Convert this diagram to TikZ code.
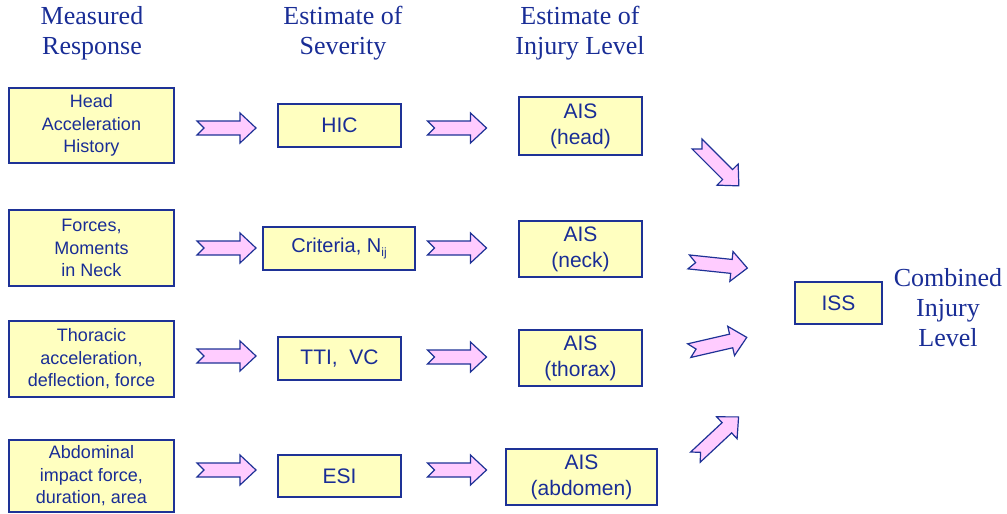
\documentclass[tikz,border=0pt]{standalone}
\usepackage{fontspec}
\setmainfont{Liberation Serif}
\setsansfont{Liberation Sans}
\usetikzlibrary{calc}
\definecolor{txtblue}{RGB}{25,45,150}
\definecolor{boxline}{RGB}{30,50,150}
\definecolor{boxfill}{RGB}{255,255,192}
\definecolor{arrfill}{RGB}{255,204,255}
\tikzset{
  boxnode/.style={draw=boxline, fill=boxfill, line width=1.4pt, text=txtblue,
    align=center, inner sep=0pt, font=\sffamily\fontsize{18}{22.5}\selectfont},
  bigbox/.style={boxnode, font=\sffamily\fontsize{21}{26}\selectfont},
  headtxt/.style={text=txtblue, align=center, font=\rmfamily\fontsize{26}{30}\selectfont},
  barrow/.pic={\draw[draw=boxline, fill=arrfill, line width=1.2pt, line join=miter]
    (-29.5,-7) -- (13.5,-7) -- (13.5,-15) -- (29.5,0) -- (13.5,15) -- (13.5,7)
    -- (-29.5,7) -- (-22.5,0) -- cycle;}
}
\begin{document}
\begin{tikzpicture}[x=1pt,y=-1pt]
\useasboundingbox (0,0) rectangle (1007,514);
% headings
\node[headtxt] (h1) at (92,33) {Measured\\Response};
\node[headtxt] (h2) at (343,33) {Estimate of\\Severity};
\node[headtxt] (h3) at (580,33) {Estimate of\\Injury Level};
\node[headtxt] (h4) at (948,308) {Combined\\Injury\\Level};
% measured response
\node[boxnode, minimum width=165, minimum height=75] (m1) at (91.5,125.5) {Head\\Acceleration\\History};
\node[boxnode, minimum width=165, minimum height=76] (m2) at (91.5,248) {Forces,\\Moments\\in Neck};
\node[boxnode, minimum width=165, minimum height=76] (m3) at (91.5,359) {Thoracic\\acceleration,\\deflection, force};
\node[boxnode, minimum width=165, minimum height=72] (m4) at (91.5,476) {Abdominal\\impact force,\\duration, area};
% severity
\node[bigbox, minimum width=123, minimum height=43] (s1) at (339.5,125.5) {HIC};
\node[bigbox, minimum width=152, minimum height=43, font=\sffamily\fontsize{20}{24}\selectfont] (s2) at (339,248.5) {Criteria, N\raisebox{-0.35ex}{\fontsize{12}{12}\selectfont ij}};
\node[bigbox, minimum width=123, minimum height=43] (s3) at (339.5,358.5) {TTI,\ \ VC};
\node[bigbox, minimum width=123, minimum height=42] (s4) at (339.5,476) {ESI};
% injury level
\node[bigbox, minimum width=123, minimum height=58] (a1) at (580.5,126) {AIS\\(head)};
\node[bigbox, minimum width=123, minimum height=56] (a2) at (580.5,249) {AIS\\(neck)};
\node[bigbox, minimum width=123, minimum height=56] (a3) at (580.5,358) {AIS\\(thorax)};
\node[bigbox, minimum width=151, minimum height=56] (a4) at (581.5,477) {AIS\\(abdomen)};
% ISS
\node[bigbox, minimum width=87, minimum height=42] (iss) at (838.5,303) {ISS};
% horizontal arrows
\pic at (226.5,128) {barrow};
\pic at (226.5,248) {barrow};
\pic at (226.5,356) {barrow};
\pic at (226.5,470) {barrow};
\pic at (457,128) {barrow};
\pic at (457,248) {barrow};
\pic at (457,357) {barrow};
\pic at (457,470) {barrow};
% diagonal arrows
\pic[rotate=-45] at (718,165) {barrow};
\pic[rotate=-6] at (718,265) {barrow};
\pic[rotate=13] at (718,344) {barrow};
\pic[rotate=43] at (717,437) {barrow};
\end{tikzpicture}
\end{document}
